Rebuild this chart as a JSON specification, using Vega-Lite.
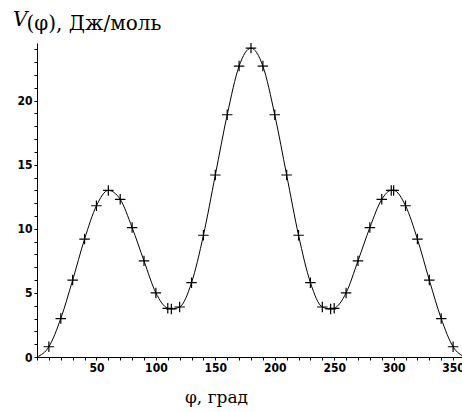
{
  "$schema": "https://vega.github.io/schema/vega-lite/v6.json",
  "width": 425,
  "height": 314,
  "autosize": {"type": "none"},
  "padding": {"left": 37, "top": 43, "right": 0, "bottom": 55},
  "background": "white",
  "title": {
    "text": "V",
    "anchor": "start",
    "frame": "group",
    "font": "DejaVu Serif",
    "fontSize": 20,
    "fontStyle": "italic",
    "fontWeight": "normal",
    "color": "black",
    "dx": -24,
    "offset": 0,
    "dy": 33,
    "baseline": "alphabetic"
  },
  "config": {
    "view": {"stroke": null},
    "axis": {
      "grid": false,
      "domainColor": "black",
      "domainWidth": 1,
      "tickColor": "black",
      "tickWidth": 1,
      "tickSize": 3,
      "labelColor": "black",
      "labelFont": "Liberation Sans Narrow, DejaVu Sans Condensed, Liberation Sans, sans-serif",
      "labelFontSize": 12,
      "labelFontWeight": "bold",
      "titleColor": "black",
      "titleFont": "DejaVu Serif",
      "titleFontWeight": "normal"
    }
  },
  "data": {
    "values": [
      {"phi": 0, "V": 0, "m": false},
      {"phi": 10, "V": 0.8, "m": true},
      {"phi": 20, "V": 3.0, "m": true},
      {"phi": 30, "V": 6.0, "m": true},
      {"phi": 40, "V": 9.2, "m": true},
      {"phi": 50, "V": 11.8, "m": true},
      {"phi": 60, "V": 13.0, "m": true},
      {"phi": 70, "V": 12.3, "m": true},
      {"phi": 80, "V": 10.1, "m": true},
      {"phi": 90, "V": 7.5, "m": true},
      {"phi": 100, "V": 5.0, "m": true},
      {"phi": 110, "V": 3.8, "m": true},
      {"phi": 113, "V": 3.75, "m": true},
      {"phi": 120, "V": 3.9, "m": true},
      {"phi": 130, "V": 5.8, "m": true},
      {"phi": 140, "V": 9.5, "m": true},
      {"phi": 150, "V": 14.2, "m": true},
      {"phi": 160, "V": 18.9, "m": true},
      {"phi": 170, "V": 22.7, "m": true},
      {"phi": 180, "V": 24.1, "m": true},
      {"phi": 190, "V": 22.7, "m": true},
      {"phi": 200, "V": 18.9, "m": true},
      {"phi": 210, "V": 14.2, "m": true},
      {"phi": 220, "V": 9.5, "m": true},
      {"phi": 230, "V": 5.8, "m": true},
      {"phi": 240, "V": 3.9, "m": true},
      {"phi": 247, "V": 3.75, "m": true},
      {"phi": 250, "V": 3.8, "m": true},
      {"phi": 260, "V": 5.0, "m": true},
      {"phi": 270, "V": 7.5, "m": true},
      {"phi": 280, "V": 10.1, "m": true},
      {"phi": 290, "V": 12.3, "m": true},
      {"phi": 298, "V": 13.0, "m": true},
      {"phi": 300, "V": 13.0, "m": true},
      {"phi": 310, "V": 11.8, "m": true},
      {"phi": 320, "V": 9.2, "m": true},
      {"phi": 330, "V": 6.0, "m": true},
      {"phi": 340, "V": 3.0, "m": true},
      {"phi": 350, "V": 0.8, "m": true},
      {"phi": 360, "V": 0, "m": false}
    ]
  },
  "encoding": {
    "x": {
      "field": "phi",
      "type": "quantitative",
      "scale": {"domain": [0, 357.5], "nice": false, "zero": false},
      "axis": {
        "title": "φ, град",
        "titleFontSize": 17,
        "titleX": 179,
        "titleY": 45,
        "titleAnchor": null,
        "titleAlign": "center",
        "titleBaseline": "alphabetic",
        "values": [0,10,20,30,40,50,60,70,80,90,100,110,120,130,140,150,160,170,180,190,200,210,220,230,240,250,260,270,280,290,300,310,320,330,340,350],
        "labelExpr": "datum.value % 50 === 0 && datum.value > 0 ? datum.label : ''",
        "labelPadding": 2,
        "labelFlush": false,
        "labelOverlap": false
      }
    },
    "y": {
      "field": "V",
      "type": "quantitative",
      "scale": {"domain": [0, 24.5], "nice": false, "zero": false},
      "axis": {
        "title": "(φ), Дж/моль",
        "titleFontSize": 20,
        "titleAngle": 0,
        "titleX": -11,
        "titleY": -14,
        "titleAlign": "left",
        "titleBaseline": "alphabetic",
        "values": [0,1,2,3,4,5,6,7,8,9,10,11,12,13,14,15,16,17,18,19,20,21,22,23,24],
        "labelExpr": "datum.value % 5 === 0 ? datum.label : ''",
        "labelPadding": 2,
        "labelFlush": false,
        "labelOverlap": false
      }
    }
  },
  "layer": [
    {
      "mark": {"type": "line", "interpolate": "monotone", "color": "black", "strokeWidth": 1, "clip": true}
    },
    {
      "transform": [{"filter": "datum.m"}],
      "mark": {"type": "point", "shape": "M-1,0L1,0M0,-1L0,1", "size": 110, "stroke": "black", "strokeWidth": 1.2, "filled": false, "opacity": 1}
    }
  ]
}
